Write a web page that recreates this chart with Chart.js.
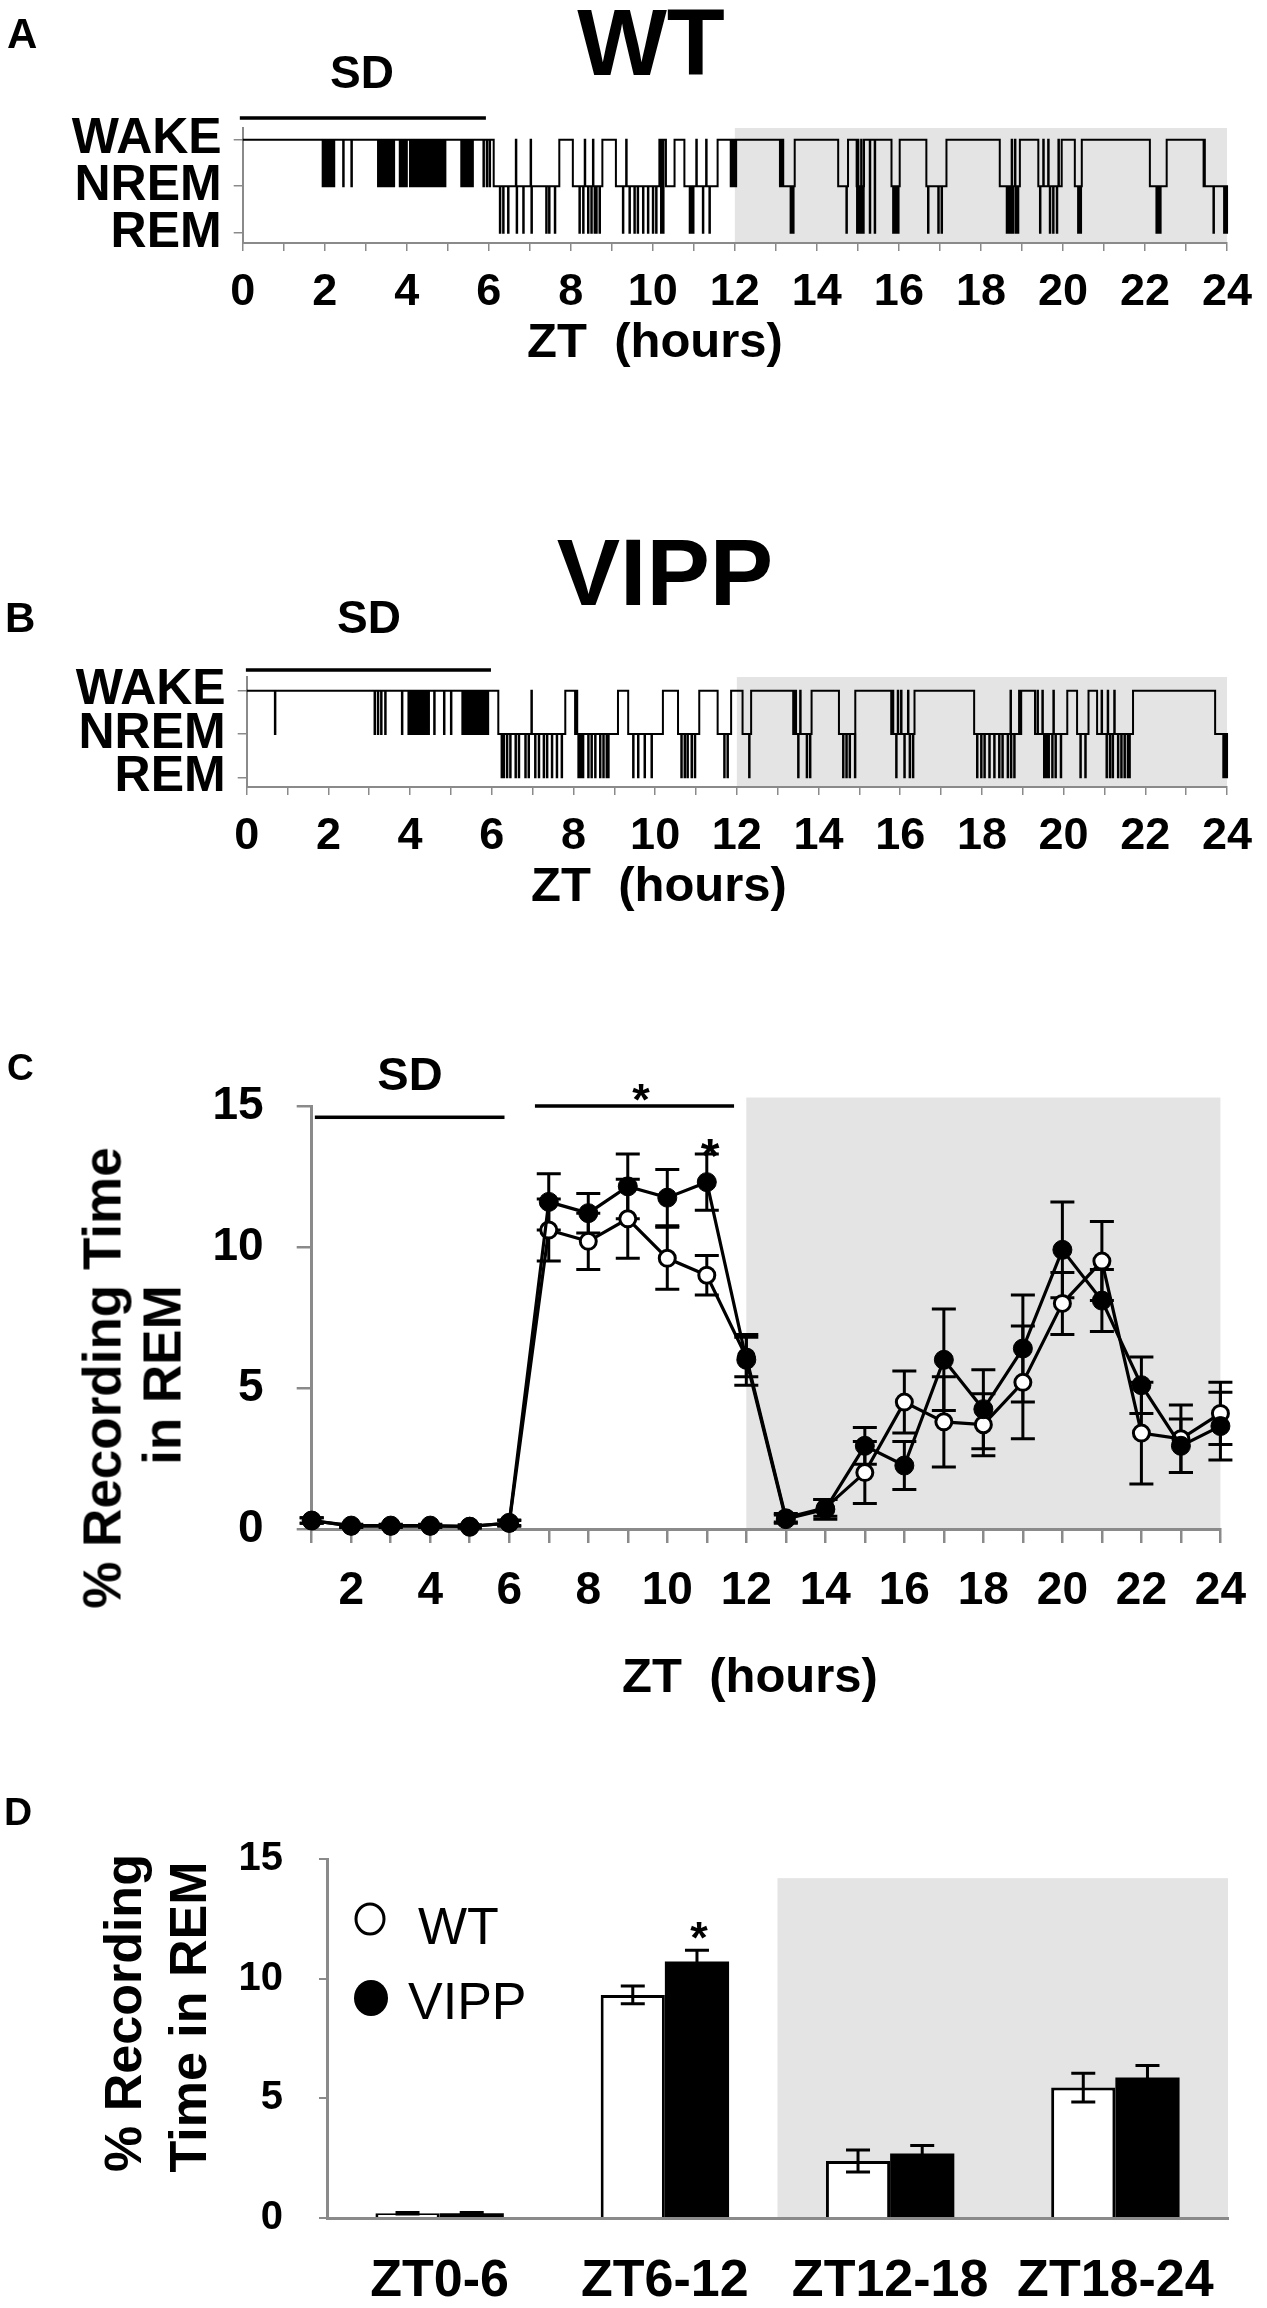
<!DOCTYPE html>
<html><head><meta charset="utf-8">
<script src="https://cdn.jsdelivr.net/npm/chart.js@4.4.1/dist/chart.umd.min.js"></script>
<style>
html,body{margin:0;padding:0;background:#fff}
body{position:relative;width:1267px;height:2308px;overflow:hidden;font-family:"Liberation Sans",Arial,Helvetica,sans-serif;color:#000}
canvas{position:absolute;left:0}
.t{position:absolute;font-weight:bold;line-height:1;white-space:pre}
.cx{transform:translateX(-50%)}
.n{font-weight:normal}
.rot{position:absolute;font-weight:bold;line-height:1;white-space:pre;transform:translate(-50%,-50%) rotate(-90deg)}
.mk{position:absolute;border-radius:50%;box-sizing:border-box;transform:translate(-50%,-50%)}
</style></head><body>
<canvas id="cA" width="1267" height="330" style="top:0px"></canvas>
<canvas id="cB" width="1267" height="330" style="top:540px"></canvas>
<canvas id="cC" width="1267" height="700" style="top:1000px"></canvas>
<canvas id="cD" width="1267" height="528" style="top:1780px"></canvas>

<div class="t" style="left:7px;top:12.5px;font-size:42px">A</div>
<div class="t cx" style="left:651px;top:-5px;font-size:95px">WT</div>
<div class="t cx" style="left:362px;top:49px;font-size:46px">SD</div>
<div class="t cx" style="left:655px;top:316px;font-size:49px">ZT  (hours)</div>

<div class="t" style="left:5px;top:597px;font-size:42px">B</div>
<div class="t cx" style="left:665px;top:525px;font-size:95px">VIPP</div>
<div class="t cx" style="left:369px;top:594px;font-size:46px">SD</div>
<div class="t cx" style="left:659px;top:860px;font-size:49px">ZT  (hours)</div>

<div class="t" style="left:7px;top:1049px;font-size:37px">C</div>
<div class="t cx" style="left:410px;top:1050px;font-size:47px">SD</div>
<div class="t cx" style="left:641px;top:1077px;font-size:45px">*</div>
<div class="t cx" style="left:710px;top:1132px;font-size:48px">*</div>
<div class="rot" style="left:102px;top:1378px;font-size:53px">% Recording Time</div>
<div class="rot" style="left:162px;top:1375px;font-size:53px">in REM</div>
<div class="t cx" style="left:750px;top:1651px;font-size:49px">ZT  (hours)</div>

<div class="t" style="left:4px;top:1792px;font-size:39px">D</div>
<div class="t cx" style="left:699px;top:1915px;font-size:45px">*</div>
<div class="rot" style="left:123px;top:2013px;font-size:52px">% Recording</div>
<div class="rot" style="left:188px;top:2017px;font-size:52px">Time in REM</div>
<div class="mk" style="left:370px;top:1919px;width:31px;height:33px;border:3.5px solid #000;background:#fff"></div>
<div class="mk" style="left:371px;top:1998px;width:34px;height:36px;background:#000"></div>
<div class="t n" style="left:418px;top:1900px;font-size:52px">WT</div>
<div class="t n" style="left:408px;top:1975px;font-size:52px">VIPP</div>

<script>
// ================= DATA =================
// Hypnogram state codes: 2 = WAKE, 1 = NREM, 0 = REM
const stateLabels = ['REM', 'NREM', 'WAKE'];
const darkPhase = [12, 24];

// Panel A (WT) : base state changes (hour, state)
const wtBaseTimes  = [0, 6.12, 7.72, 8.05, 8.77, 9.10, 10.16, 10.32, 10.53, 10.77, 11.58, 13.18, 13.46, 14.52, 14.76, 14.97, 15.15, 15.82, 16.02, 16.67, 17.16, 18.46, 18.95, 19.40, 19.97, 20.29, 20.46, 22.12, 22.53, 23.46];
const wtBaseStates = [2, 1, 2, 1, 2, 1, 2, 1, 2, 1, 2, 1, 2, 1, 2, 1, 2, 1, 2, 1, 2, 1, 2, 1, 2, 1, 2, 1, 2, 1];
// brief excursions (hours)
const wtNremSpikes = [1.95, 1.99, 2.04, 2.10, 2.16, 2.22, 2.45, 2.65, 3.30, 3.33, 3.36, 3.39, 3.42, 3.45, 3.48, 3.52, 3.56, 3.60, 3.64, 3.68, 3.83, 3.87, 3.91, 3.95, 3.99, 4.08, 4.11, 4.14, 4.17, 4.20, 4.23, 4.26, 4.29, 4.32, 4.35, 4.38, 4.41, 4.45, 4.48, 4.52, 4.56, 4.60, 4.64, 4.68, 4.72, 4.76, 4.80, 4.85, 4.90, 4.93, 5.33, 5.36, 5.39, 5.42, 5.45, 5.48, 5.52, 5.56, 5.60, 5.87, 5.95, 6.02, 11.90, 11.93, 11.96, 11.99, 12.02, 13.10, 13.13, 13.16, 23.43];
const wtRemSpikes  = [6.27, 6.35, 6.47, 6.68, 6.84, 7.04, 7.40, 7.47, 7.61, 8.21, 8.30, 8.42, 8.50, 8.58, 8.62, 8.70, 9.27, 9.43, 9.55, 9.63, 9.76, 9.88, 10.00, 10.08, 10.20, 10.25, 10.90, 10.94, 10.98, 11.22, 11.38, 13.36, 13.42, 14.72, 14.98, 15.02, 15.05, 15.10, 15.13, 15.29, 15.41, 15.86, 15.90, 15.94, 15.98, 16.71, 16.96, 17.04, 18.63, 18.67, 18.72, 18.78, 18.85, 18.90, 19.44, 19.68, 19.76, 19.85, 20.37, 20.43, 22.28, 22.32, 22.37, 23.67, 23.93, 23.96, 23.99];
const wtWakeSpikes = [6.66, 7.02, 8.34, 8.54, 9.35, 11.06, 11.30, 15.00, 15.08, 18.75, 18.83, 19.52, 19.64, 19.89];

// Panel B (VIPP)
const vippBaseTimes  = [0, 6.16, 7.80, 8.04, 9.09, 9.34, 10.19, 10.56, 11.08, 11.53, 11.86, 12.14, 12.35, 13.45, 13.83, 14.50, 14.90, 15.83, 16.35, 17.81, 18.91, 19.30, 20.09, 20.33, 20.61, 20.82, 21.70, 23.71];
const vippBaseStates = [2, 1, 2, 1, 2, 1, 2, 1, 2, 1, 2, 1, 2, 1, 2, 1, 2, 1, 2, 1, 2, 1, 2, 1, 2, 1, 2, 1];
const vippNremSpikes = [0.69, 3.13, 3.21, 3.29, 3.39, 3.80, 3.96, 3.99, 4.02, 4.05, 4.08, 4.11, 4.14, 4.17, 4.20, 4.23, 4.27, 4.31, 4.35, 4.40, 4.45, 4.59, 4.83, 5.00, 5.28, 5.31, 5.34, 5.37, 5.40, 5.43, 5.46, 5.49, 5.52, 5.55, 5.58, 5.61, 5.64, 5.67, 5.70, 5.73, 5.76, 5.80, 5.84, 5.90, 13.38, 13.42, 15.78, 18.95];
const vippRemSpikes  = [6.24, 6.29, 6.37, 6.45, 6.58, 6.66, 6.82, 6.90, 7.06, 7.15, 7.27, 7.35, 7.47, 7.59, 7.71, 8.12, 8.18, 8.23, 8.36, 8.44, 8.53, 8.65, 8.73, 8.81, 8.85, 9.46, 9.58, 9.74, 9.91, 10.64, 10.72, 10.79, 10.89, 10.97, 11.69, 11.77, 12.30, 13.50, 13.71, 13.79, 14.60, 14.68, 14.76, 14.89, 15.90, 16.10, 16.23, 16.31, 17.88, 17.98, 18.06, 18.18, 18.30, 18.42, 18.50, 18.63, 18.71, 18.79, 19.52, 19.58, 19.63, 19.72, 19.80, 19.93, 20.41, 20.53, 21.05, 21.13, 21.20, 21.33, 21.41, 21.49, 21.57, 21.61, 23.91, 23.95, 23.99];
const vippWakeSpikes = [6.97, 8.08, 13.55, 15.94, 16.02, 16.19, 18.70, 19.36, 19.48, 19.75, 20.93, 21.08, 21.24];

const sdBarA = [-0.07, 5.93];
const sdBarB = [-0.02, 5.98];

// Panel C : hourly % REM (mean, SEM)
const hoursC     = [1, 2, 3, 4, 5, 6, 7, 8, 9, 10, 11, 12, 13, 14, 15, 16, 17, 18, 19, 20, 21, 22, 23, 24];
const wtREM      = [0.3, 0.1, 0.1, 0.1, 0.1, 0.2, 10.6, 10.2, 11.0, 9.6, 9.0, 6.1, 0.4, 0.75, 2.0, 4.5, 3.8, 3.7, 5.2, 8.0, 9.5, 3.4, 3.2, 4.1];
const wtREMerr   = [0.1, 0.05, 0.05, 0.05, 0.05, 0.1, 1.1, 1.0, 1.4, 1.1, 0.7, 0.7, 0.15, 0.3, 1.1, 1.1, 1.6, 1.1, 2.0, 1.1, 1.4, 1.8, 1.2, 1.1];
const vippREM    = [0.3, 0.12, 0.12, 0.12, 0.08, 0.22, 11.6, 11.2, 12.15, 11.75, 12.3, 6.0, 0.35, 0.7, 2.95, 2.25, 6.0, 4.25, 6.4, 9.9, 8.1, 5.1, 2.95, 3.65];
const vippREMerr = [0.1, 0.05, 0.05, 0.05, 0.05, 0.1, 1.0, 0.7, 1.15, 1.0, 1.0, 0.9, 0.15, 0.35, 0.65, 0.85, 1.8, 1.4, 1.9, 1.7, 1.1, 1.0, 0.95, 1.2];
const sdBarC  = [1.08, 5.88];
const sigBarC = [6.65, 11.69];

// Panel D : 6-h bins
const binsD      = ['ZT0-6', 'ZT6-12', 'ZT12-18', 'ZT18-24'];
const wtBin      = [0.2, 9.32, 2.38, 5.45];
const wtBinErr   = [0.03, 0.37, 0.46, 0.6];
const vippBin    = [0.2, 10.72, 2.7, 5.87];
const vippBinErr = [0.03, 0.47, 0.33, 0.5];

// ================= CHARTS =================
Chart.defaults.font.family = '"Liberation Sans", Arial, sans-serif';
Chart.defaults.color = '#000';
const AXIS = '#8a8a8a';
const GRAY = '#e4e4e4';

function buildHypno(bt, bs, nrem, rem, wake) {
  const baseAt = t => { let s = bs[0]; for (let i = 0; i < bt.length; i++) { if (bt[i] <= t) s = bs[i]; else break; } return s; };
  const ev = [];
  bt.forEach((t, i) => ev.push({t, s: bs[i], k: 0}));
  nrem.forEach(t => ev.push({t, s: 1, k: 1}));
  rem.forEach(t => ev.push({t, s: 0, k: 1}));
  wake.forEach(t => ev.push({t, s: 2, k: 1}));
  ev.sort((a, b) => a.t - b.t || a.k - b.k);
  const pts = [];
  for (const e of ev) {
    if (e.k === 0) pts.push({x: e.t, y: e.s});
    else { pts.push({x: e.t, y: e.s}); pts.push({x: e.t + 0.012, y: baseAt(e.t)}); }
  }
  pts.push({x: 24, y: baseAt(24)});
  return pts;
}

function hypnoChart(id, pts, yMin, yMax, yWidth, padTop, padRight, xHeight, sdBar, sdOffset) {
  const hourTicks = [];
  for (let h = 0; h <= 24; h++) hourTicks.push({value: h});
  return new Chart(document.getElementById(id), {
    type: 'line',
    data: {datasets: [{data: pts, stepped: true, borderColor: '#000', borderWidth: 2, pointRadius: 0, fill: false, clip: false}]},
    options: {
      responsive: false, animation: false, devicePixelRatio: 1,
      layout: {padding: {left: 0, top: padTop, right: padRight, bottom: 0}},
      plugins: {legend: {display: false}, tooltip: {enabled: false}},
      scales: {
        x: {type: 'linear', min: 0, max: 24, bounds: 'data',
            afterBuildTicks: s => { s.ticks = hourTicks.slice(); },
            ticks: {autoSkip: false, maxRotation: 0, minRotation: 0, callback: v => (v % 2 === 0 ? String(v) : ''), font: {size: 45, weight: 'bold'}, color: '#000', padding: 15},
            grid: {drawOnChartArea: false, tickLength: 8, color: AXIS, lineWidth: 1.5},
            border: {color: AXIS, width: 2},
            afterFit: s => { s.height = xHeight; }},
        y: {type: 'linear', min: yMin, max: yMax, bounds: 'data',
            afterBuildTicks: s => { s.ticks = [0, 1, 2].map(v => ({value: v})); },
            ticks: {autoSkip: false, callback: v => stateLabels[v], font: {size: 50, weight: 'bold'}, color: '#000', padding: 12},
            grid: {drawOnChartArea: false, tickLength: 9, color: AXIS, lineWidth: 1.5},
            border: {color: AXIS, width: 2},
            afterFit: s => { s.width = yWidth; }}
      }
    },
    plugins: [{
      id: 'decor' + id,
      beforeDraw(chart) {
        const {ctx, chartArea: a, scales: {x}} = chart;
        const x0 = x.getPixelForValue(darkPhase[0]), x1 = x.getPixelForValue(darkPhase[1]);
        ctx.save(); ctx.fillStyle = GRAY; ctx.fillRect(x0, a.top, x1 - x0, a.bottom - a.top); ctx.restore();
      },
      afterDraw(chart) {
        const {ctx, chartArea: a, scales: {x}} = chart;
        const x0 = x.getPixelForValue(sdBar[0]), x1 = x.getPixelForValue(sdBar[1]);
        ctx.save(); ctx.fillStyle = '#000'; ctx.fillRect(x0, a.top - sdOffset - 1.75, x1 - x0, 3.5); ctx.restore();
      }
    }]
  });
}

hypnoChart('cA', buildHypno(wtBaseTimes, wtBaseStates, wtNremSpikes, wtRemSpikes, wtWakeSpikes), -0.22, 2.25, 242.7, 128, 39, 87, sdBarA, 10);
hypnoChart('cB', buildHypno(vippBaseTimes, vippBaseStates, vippNremSpikes, vippRemSpikes, vippWakeSpikes), -0.224, 2.316, 246.7, 137, 35, 83, sdBarB, 7);

// ---- Panel C ----
function errBars(ctx, xs, ys, vals, errs, capW) {
  ctx.save(); ctx.strokeStyle = '#000'; ctx.lineWidth = 3; ctx.lineCap = 'butt';
  vals.forEach((v, i) => {
    const x = xs(i), yt = ys(v + errs[i]), yb = ys(v - errs[i]);
    ctx.beginPath();
    ctx.moveTo(x, yt); ctx.lineTo(x, yb);
    ctx.moveTo(x - capW / 2, yt); ctx.lineTo(x + capW / 2, yt);
    ctx.moveTo(x - capW / 2, yb); ctx.lineTo(x + capW / 2, yb);
    ctx.stroke();
  });
  ctx.restore();
}

new Chart(document.getElementById('cC'), {
  type: 'line',
  data: {datasets: [
    {label: 'VIPP', data: hoursC.map((h, i) => ({x: h, y: vippREM[i]})), borderColor: '#000', borderWidth: 3.2,
     pointRadius: 9.5, pointBackgroundColor: '#000', pointBorderColor: '#000', pointBorderWidth: 1, clip: false, order: 0},
    {label: 'WT', data: hoursC.map((h, i) => ({x: h, y: wtREM[i]})), borderColor: '#000', borderWidth: 3.2,
     pointRadius: 8, pointBackgroundColor: '#fff', pointBorderColor: '#000', pointBorderWidth: 3, clip: false, order: 1}
  ]},
  options: {
    responsive: false, animation: false, devicePixelRatio: 1,
    layout: {padding: {left: 0, top: 106, right: 38.3, bottom: 0}},
    plugins: {legend: {display: false}, tooltip: {enabled: false}},
    scales: {
      x: {type: 'linear', min: 1, max: 24, bounds: 'data',
          afterBuildTicks: s => { s.ticks = hoursC.map(v => ({value: v})); },
          ticks: {autoSkip: false, maxRotation: 0, minRotation: 0, callback: v => (v % 2 === 0 ? String(v) : ''), font: {size: 46, weight: 'bold'}, color: '#000', padding: 21},
          grid: {drawOnChartArea: false, tickLength: 14, color: AXIS, lineWidth: 2.5},
          border: {color: AXIS, width: 3},
          afterFit: s => { s.height = 171; }},
      y: {type: 'linear', min: 0, max: 15, bounds: 'data',
          afterBuildTicks: s => { s.ticks = [0, 5, 10, 15].map(v => ({value: v})); },
          ticks: {autoSkip: false, font: {size: 46, weight: 'bold'}, color: '#000', padding: 33},
          grid: {drawOnChartArea: false, tickLength: 15, color: AXIS, lineWidth: 2.5},
          border: {color: AXIS, width: 3},
          afterFit: s => { s.width = 311.7; }}
    }
  },
  plugins: [{
    id: 'decorC',
    beforeDraw(chart) {
      const {ctx, chartArea: a, scales: {x, y}} = chart;
      const x0 = x.getPixelForValue(darkPhase[0]), x1 = x.getPixelForValue(darkPhase[1]);
      const yt = y.getPixelForValue(15.3);
      ctx.save(); ctx.fillStyle = GRAY; ctx.fillRect(x0, yt, x1 - x0, a.bottom - yt); ctx.restore();
    },
    beforeDatasetsDraw(chart) {
      const {ctx, scales: {x, y}} = chart;
      const xs = i => x.getPixelForValue(hoursC[i]);
      const ys = v => y.getPixelForValue(v);
      errBars(ctx, xs, ys, wtREM, wtREMerr, 24);
      errBars(ctx, xs, ys, vippREM, vippREMerr, 24);
    },
    afterDraw(chart) {
      const {ctx, scales: {x, y}} = chart;
      ctx.save(); ctx.fillStyle = '#000';
      let x0 = x.getPixelForValue(sdBarC[0]), x1 = x.getPixelForValue(sdBarC[1]);
      ctx.fillRect(x0, y.getPixelForValue(14.6) - 1.75, x1 - x0, 3.5);
      x0 = x.getPixelForValue(sigBarC[0]); x1 = x.getPixelForValue(sigBarC[1]);
      ctx.fillRect(x0, y.getPixelForValue(15.0) - 1.75, x1 - x0, 3.5);
      ctx.restore();
    }
  }]
});

// ---- Panel D ----
new Chart(document.getElementById('cD'), {
  type: 'bar',
  data: {labels: binsD, datasets: [
    {label: 'WT', data: wtBin, backgroundColor: '#fff', borderColor: '#000', borderWidth: 3, borderSkipped: 'bottom', categoryPercentage: 0.57, barPercentage: 1.0},
    {label: 'VIPP', data: vippBin, backgroundColor: '#000', borderColor: '#000', borderWidth: 0, categoryPercentage: 0.57, barPercentage: 1.0}
  ]},
  options: {
    responsive: false, animation: false, devicePixelRatio: 1,
    layout: {padding: {left: 0, top: 79, right: 39, bottom: 0}},
    plugins: {legend: {display: false}, tooltip: {enabled: false}},
    scales: {
      x: {ticks: {autoSkip: false, maxRotation: 0, minRotation: 0, font: {size: 52, weight: 'bold'}, color: '#000', padding: 32},
          grid: {display: false, drawTicks: false},
          border: {color: AXIS, width: 3},
          afterFit: s => { s.height = 90; }},
      y: {min: 0, max: 15, bounds: 'data',
          afterBuildTicks: s => { s.ticks = [0, 5, 10, 15].map(v => ({value: v})); },
          ticks: {autoSkip: false, font: {size: 40, weight: 'bold'}, color: '#000', padding: 36},
          grid: {drawOnChartArea: false, tickLength: 8, color: AXIS, lineWidth: 2},
          border: {color: AXIS, width: 3},
          afterFit: s => { s.width = 327; }}
    }
  },
  plugins: [{
    id: 'decorD',
    beforeDraw(chart) {
      const {ctx, chartArea: a, scales: {x, y}} = chart;
      const x0 = (x.getPixelForValue(1) + x.getPixelForValue(2)) / 2;
      const yt = y.getPixelForValue(14.2);
      ctx.save(); ctx.fillStyle = GRAY; ctx.fillRect(x0, yt, a.right - x0, a.bottom - yt); ctx.restore();
    },
    afterDatasetsDraw(chart) {
      const {ctx, scales: {y}} = chart;
      const ys = v => y.getPixelForValue(v);
      const m0 = chart.getDatasetMeta(0), m1 = chart.getDatasetMeta(1);
      errBars(ctx, i => m0.data[i].x, ys, wtBin, wtBinErr, 24);
      errBars(ctx, i => m1.data[i].x, ys, vippBin, vippBinErr, 24);
    }
  }]
});
</script>
</body></html>
